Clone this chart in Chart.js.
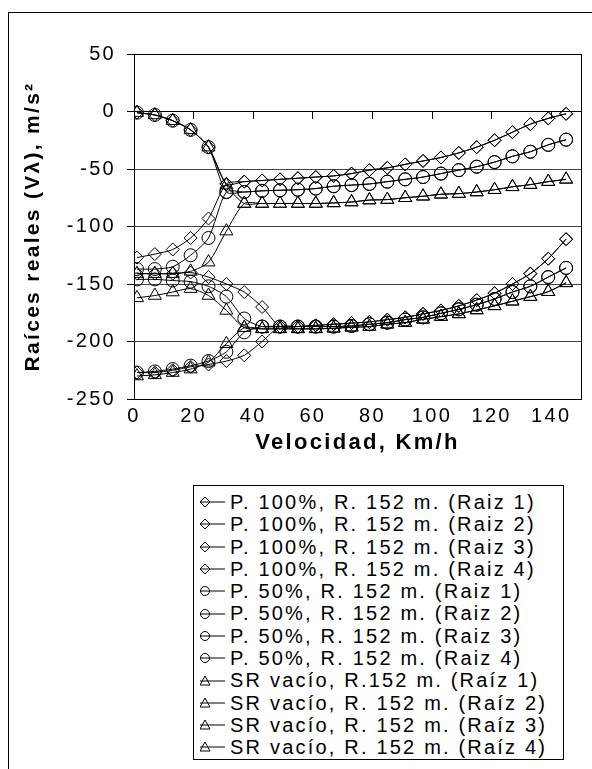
<!DOCTYPE html>
<html>
<head>
<meta charset="utf-8">
<script src="https://cdn.jsdelivr.net/npm/chart.js@4.4.1/dist/chart.umd.min.js"></script>
<style>
html, body { margin: 0; padding: 0; background: #fff; width: 592px; height: 769px; overflow: hidden; }
#frame { position: absolute; left: 8px; top: 12px; width: 700px; height: 800px; border: 1px solid #000; }
#plot { position: absolute; left: 0; top: 0; }
#legend {
    position: absolute; left: 193px; top: 485px; width: 371px; height: 275px;
    box-sizing: border-box; border: 1px solid #000; background: #fff; padding-top: 5px;
    font-family: "Liberation Sans", Arial, sans-serif; font-size: 20px; letter-spacing: 2.2px; color: #000;
}
.row { height: 22.3px; line-height: 22.3px; display: flex; align-items: center; white-space: nowrap; }
.row svg { flex: none; margin-left: 6px; }
</style>
</head>
<body>
<div id="frame"></div>
<canvas id="plot" width="592" height="470"></canvas>
<div id="legend"></div>
<script>
// x values (km/h)
const velocidad = [1, 7, 13, 19, 25, 31, 37, 43, 49, 55, 61, 67, 73, 79, 85, 91, 97, 103, 109, 115, 121, 127, 133, 139, 145];

// P. 100%, R. 152 m.
const p100Raiz1 = [-1, -3, -8, -16, -31, -63, -61, -60, -59, -58, -57, -56, -54, -51, -49, -46, -43, -40, -36, -31, -25, -18, -11, -6, -2];
const p100Raiz2 = [-127, -124, -120, -110, -93, -63, -61, -60, -59, -58, -57, -56, -54, -51, -49, -46, -43, -40, -36, -31, -25, -18, -11, -6, -2];
const p100Raiz3 = [-141, -141, -141, -140, -144, -150, -157, -170, -187, -187, -186, -185, -184, -183, -181, -179, -176, -173, -169, -164, -158, -150, -141, -128, -111];
const p100Raiz4 = [-227, -227, -225, -222, -220, -217, -212, -200, -187, -187, -186, -185, -184, -183, -181, -179, -176, -173, -169, -164, -158, -150, -141, -128, -111];

// P. 50%, R. 152 m.
const p50Raiz1 = [-1, -3, -8, -16, -31, -70, -70, -69, -68.5, -68, -67, -65, -64, -63, -61, -59, -57, -54, -51, -48, -44, -39, -35, -29, -24.5];
const p50Raiz2 = [-137, -137, -135, -125, -110, -70, -70, -69, -68.5, -68, -67, -65, -64, -63, -61, -59, -57, -54, -51, -48, -44, -39, -35, -29, -24.5];
const p50Raiz3 = [-146, -146, -147, -148, -152, -161, -180, -187, -187, -187, -187, -187, -186.5, -185, -183.6, -181, -179, -175.5, -172, -168, -163, -157, -152, -144, -136];
const p50Raiz4 = [-227, -226, -224, -221, -217, -209, -192, -187, -187, -187, -187, -187, -186.5, -185, -183.6, -181, -179, -175.5, -172, -168, -163, -157, -152, -144, -136];

// SR vacío, R. 152 m.
const srRaiz1 = [-1, -3, -8, -16, -31, -64, -80, -80, -80, -80, -80, -79.5, -78.7, -77, -76.6, -75, -73.7, -72, -71.4, -70, -68, -65.5, -63.6, -61, -59];
const srRaiz2 = [-141, -141, -141, -139, -131, -104, -80, -80, -80, -80, -80, -79.5, -78.7, -77, -76.6, -75, -73.7, -72, -71.4, -70, -68, -65.5, -63.6, -61, -59];
const srRaiz3 = [-162, -160, -157, -154, -160, -173, -188, -189, -189, -189, -189, -188.5, -187.6, -187, -185, -183.6, -180.7, -178.4, -176, -172.6, -169, -165, -161, -156.7, -149];
const srRaiz4 = [-230, -229, -227, -224, -218, -202, -188, -189, -189, -189, -189, -188.5, -187.6, -187, -185, -183.6, -180.7, -178.4, -176, -172.6, -169, -165, -161, -156.7, -149];

const seriesNames = [
    'P. 100%, R. 152 m. (Raiz 1)', 'P. 100%, R. 152 m. (Raiz 2)', 'P. 100%, R. 152 m. (Raiz 3)', 'P. 100%, R. 152 m. (Raiz 4)',
    'P. 50%, R. 152 m. (Raiz 1)', 'P. 50%, R. 152 m. (Raiz 2)', 'P. 50%, R. 152 m. (Raiz 3)', 'P. 50%, R. 152 m. (Raiz 4)',
    'SR vacío, R.152 m. (Raíz 1)', 'SR vacío, R. 152 m. (Raíz 2)', 'SR vacío, R. 152 m. (Raíz 3)', 'SR vacío, R. 152 m. (Raíz 4)'
];
const seriesValues = [p100Raiz1, p100Raiz2, p100Raiz3, p100Raiz4, p50Raiz1, p50Raiz2, p50Raiz3, p50Raiz4, srRaiz1, srRaiz2, srRaiz3, srRaiz4];
const seriesMarkers = ['rectRot', 'rectRot', 'rectRot', 'rectRot', 'circle', 'circle', 'circle', 'circle', 'triangle', 'triangle', 'triangle', 'triangle'];

const yTicks = { min: -250, max: 50, step: 50 };
const xTicks = { min: 0, max: 150, step: 20 };

const FONT = '"Liberation Sans", Arial, sans-serif';
Chart.defaults.font.family = FONT;
Chart.defaults.color = '#000';

const markerSize = { rectRot: 6.5, circle: 6.5, triangle: 7.5 };

let datasets = seriesNames.map((name, i) => ({
    label: name,
    data: velocidad.map((v, j) => ({ x: v, y: seriesValues[i][j] })),
    showLine: true,
    borderColor: '#000',
    borderWidth: 1,
    backgroundColor: 'rgba(0,0,0,0)',
    pointStyle: seriesMarkers[i],
    pointRadius: markerSize[seriesMarkers[i]],
    pointBorderColor: '#000',
    pointBackgroundColor: 'rgba(0,0,0,0)',
    pointBorderWidth: 1,
    tension: 0.25
}));

// Excel style text is a bit spread out
const spacing = {
    id: 'spacing',
    beforeUpdate(chart) { chart.ctx.letterSpacing = '2.3px'; },
    beforeDraw(chart) { chart.ctx.letterSpacing = '2.3px'; }
};

// box round the plot area
const plotBorder = {
    id: 'plotBorder',
    beforeDatasetsDraw(chart) {
        let a = chart.chartArea, ctx = chart.ctx;
        ctx.save();
        ctx.strokeStyle = '#000';
        ctx.lineWidth = 1;
        ctx.strokeRect(Math.round(a.left) + 0.5, Math.round(a.top) + 0.5, Math.round(a.right - a.left), Math.round(a.bottom - a.top));
        ctx.restore();
    }
};

let chart = new Chart(document.getElementById('plot'), {
    type: 'scatter',
    data: { datasets: datasets },
    plugins: [spacing, plotBorder],
    options: {
        responsive: false,
        animation: false,
        layout: { padding: { left: 8, top: 54, right: 11, bottom: 0 } },
        plugins: { legend: { display: false }, tooltip: { enabled: false } },
        scales: {
            x: {
                type: 'linear', position: 'bottom',
                min: xTicks.min, max: xTicks.max,
                ticks: { stepSize: xTicks.step, includeBounds: false, maxRotation: 0, padding: 5,
                    font: { size: 20 }, color: '#000',
                    callback: v => v <= 140 ? v : '' },
                grid: { display: false, drawTicks: false },
                border: { color: '#000', width: 1 },
                title: { display: true, text: 'Velocidad, Km/h', color: '#000',
                    font: { size: 22, weight: 'bold' }, padding: { top: 4, bottom: 14 } },
                afterFit(s) { s.height = 71; }
            },
            x2: {
                type: 'linear', axis: 'x', position: { y: 0 },
                min: xTicks.min, max: xTicks.max,
                ticks: { stepSize: xTicks.step, includeBounds: false, display: false },
                grid: { drawOnChartArea: false, tickLength: 7, color: '#000', tickColor: '#000' },
                border: { color: '#000', width: 1 }
            },
            y: {
                min: yTicks.min, max: yTicks.max,
                ticks: { stepSize: yTicks.step, padding: 11, font: { size: 20 }, color: '#000' },
                grid: { color: c => (c.tick && c.tick.value === 0) ? '#000' : '#444', tickColor: '#000', tickLength: 7 },
                border: { color: '#000', width: 1 },
                title: { display: true, text: 'Raíces reales (Vλ), m/s²', color: '#000',
                    font: { size: 21, weight: 'bold' }, padding: { top: 13, bottom: 0 } },
                afterFit(s) { s.width = 126; }
            }
        }
    }
});

// legend built from the datasets
function markerSvg(style) {
    let m = '';
    if (style === 'rectRot') m = '<polygon points="0,11 5,6 10,11 5,16" fill="none" stroke="#000" stroke-width="1"/>';
    else if (style === 'circle') m = '<circle cx="5" cy="11" r="4.5" fill="none" stroke="#000" stroke-width="1"/>';
    else m = '<polygon points="5,6 10,15 0,15" fill="none" stroke="#000" stroke-width="1"/>';
    return '<svg width="30" height="22" viewBox="0 0 30 22"><line x1="0" y1="11" x2="25" y2="11" stroke="#000" stroke-width="1"/>' + m + '</svg>';
}
let legend = document.getElementById('legend');
chart.data.datasets.forEach(ds => {
    let row = document.createElement('div');
    row.className = 'row';
    row.innerHTML = markerSvg(ds.pointStyle) + '<span></span>';
    row.querySelector('span').textContent = ds.label;
    legend.appendChild(row);
});
</script>
</body>
</html>
